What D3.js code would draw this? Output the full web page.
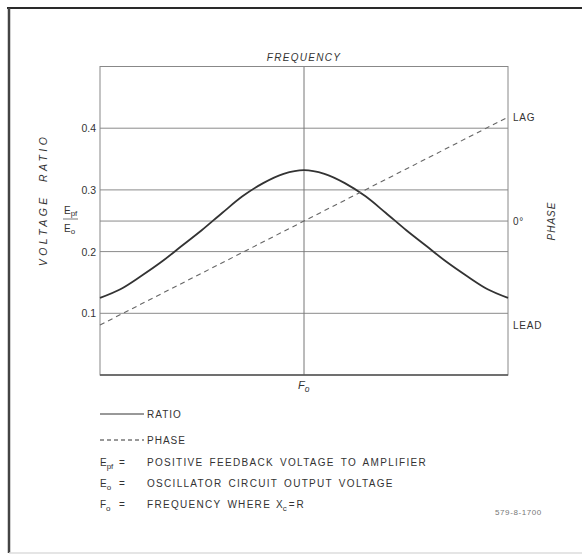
<!DOCTYPE html>
<html>
<head>
<meta charset="utf-8">
<script src="https://cdn.jsdelivr.net/npm/d3@7"></script>
<style>
  body { margin: 0; background: #fff; }
  svg text { font-family: 'Liberation Sans', Arial, sans-serif; fill: #333; }
</style>
</head>
<body>
<div id="chart"></div>
<script>
// frequency relative to Fo (log scale, -1 .. +1 across the plot)
const freq = [-1, -0.9, -0.8, -0.7, -0.6, -0.5, -0.4, -0.3, -0.2, -0.1, 0,
  0.1, 0.2, 0.3, 0.4, 0.5, 0.6, 0.7, 0.8, 0.9, 1];
// Epf / Eo
const ratio = [0.125, 0.139, 0.160, 0.183, 0.209, 0.235, 0.263, 0.290, 0.311, 0.326, 0.332,
  0.326, 0.311, 0.290, 0.263, 0.235, 0.209, 0.183, 0.160, 0.139, 0.125];
// phase is a straight line from lead to lag
const phaseFreq = [-1, 1];
const phaseDeg = [-90, 90];

const ratioTicks = [0.1, 0.2, 0.3, 0.4];
const phaseTicks = [
  { v: 90, label: 'LAG' },
  { v: 0, label: '0°' },
  { v: -90, label: 'LEAD' },
];

const w = 582;
const h = 558;
const margins = { top: 67, right: 74, bottom: 183, left: 100 };

const svg = d3.select('#chart').append('svg')
  .attr('width', w)
  .attr('height', h);

// outer frame (only top and left edges show in the scan)
svg.append('line').attr('x1', 7).attr('x2', w).attr('y1', 8).attr('y2', 8)
  .attr('stroke', '#2a2a2a').attr('stroke-width', 2);
svg.append('line').attr('x1', 9).attr('x2', 9).attr('y1', 8).attr('y2', 553)
  .attr('stroke', '#444').attr('stroke-width', 2.5);
svg.append('line').attr('x1', 9).attr('x2', w).attr('y1', 553).attr('y2', 553)
  .attr('stroke', '#ddd').attr('stroke-width', 1.5);

const x = d3.scaleLinear()
  .domain([-1, 1])
  .range([margins.left, w - margins.right]);
const y = d3.scaleLinear()
  .domain([0, 0.5])
  .range([h - margins.bottom, margins.top - 0.5]);
const yPhase = d3.scaleLinear()
  .domain([-90, 90])
  .range([y(0.081), y(0.418)]);

const plot = svg.append('g');

// grid
plot.selectAll('line.grid')
  .data(ratioTicks)
  .enter()
  .append('line')
  .attr('class', 'grid')
  .attr('x1', x(-1)).attr('x2', x(1))
  .attr('y1', d => y(d)).attr('y2', d => y(d))
  .attr('stroke', '#8a8a8a').attr('stroke-width', 1);
plot.append('line')
  .attr('x1', x(-1)).attr('x2', x(1))
  .attr('y1', yPhase(0)).attr('y2', yPhase(0))
  .attr('stroke', '#8a8a8a').attr('stroke-width', 1);
plot.append('line')
  .attr('x1', x(0)).attr('x2', x(0))
  .attr('y1', y(0.5)).attr('y2', y(0))
  .attr('stroke', '#777').attr('stroke-width', 1);

// plot frame
plot.append('rect')
  .attr('x', x(-1)).attr('y', y(0.5))
  .attr('width', x(1) - x(-1)).attr('height', y(0) - y(0.5))
  .attr('fill', 'none').attr('stroke', '#888').attr('stroke-width', 1);
plot.append('line')
  .attr('x1', x(-1)).attr('x2', x(1))
  .attr('y1', y(0)).attr('y2', y(0))
  .attr('stroke', '#555').attr('stroke-width', 1.5);

// curves
const ratioLine = d3.line()
  .x((d, i) => x(freq[i]))
  .y(d => y(d))
  .curve(d3.curveCatmullRom);
plot.append('path')
  .attr('d', ratioLine(ratio))
  .attr('fill', 'none').attr('stroke', '#333').attr('stroke-width', 1.8);

const phaseLine = d3.line()
  .x((d, i) => x(phaseFreq[i]))
  .y(d => yPhase(d));
plot.append('path')
  .attr('d', phaseLine(phaseDeg))
  .attr('fill', 'none').attr('stroke', '#666').attr('stroke-width', 1.1)
  .attr('stroke-dasharray', '5,4');

// left tick labels
svg.selectAll('text.ytick')
  .data(ratioTicks)
  .enter()
  .append('text')
  .attr('class', 'ytick')
  .attr('x', x(-1) - 4)
  .attr('y', d => y(d) + 4)
  .attr('text-anchor', 'end')
  .style('font-size', '10.5px')
  .text(d3.format('.1f'));

// right phase labels
svg.selectAll('text.ptick')
  .data(phaseTicks)
  .enter()
  .append('text')
  .attr('class', 'ptick')
  .attr('x', x(1) + 5)
  .attr('y', d => yPhase(d.v) + 4)
  .style('font-size', '10px')
  .style('letter-spacing', '0.8px')
  .text(d => d.label);

// axis titles
svg.append('text')
  .attr('x', x(0))
  .attr('y', 61)
  .attr('text-anchor', 'middle')
  .style('font-size', '10px')
  .style('font-style', 'italic')
  .style('letter-spacing', '1.3px')
  .text('FREQUENCY');

svg.append('text')
  .attr('transform', 'translate(47, 200) rotate(-90)')
  .attr('text-anchor', 'middle')
  .style('font-size', '10.5px')
  .style('font-style', 'italic')
  .style('letter-spacing', '3.4px')
  .style('word-spacing', '6px')
  .text('VOLTAGE RATIO');

svg.append('text')
  .attr('transform', `translate(555, ${yPhase(0)}) rotate(-90)`)
  .attr('text-anchor', 'middle')
  .style('font-size', '10px')
  .style('font-style', 'italic')
  .style('letter-spacing', '1px')
  .text('PHASE');

// Epf / Eo fraction
const frac = svg.append('g').attr('transform', 'translate(64, 214)');
const num = frac.append('text').attr('x', 0).attr('y', 0).style('font-size', '10px');
num.append('tspan').text('E');
num.append('tspan').attr('dy', 2).style('font-size', '8px').text('pf');
frac.append('line').attr('x1', -1).attr('x2', 14).attr('y1', 5).attr('y2', 5)
  .attr('stroke', '#555').attr('stroke-width', 0.8);
const den = frac.append('text').attr('x', 0).attr('y', 18).style('font-size', '10px');
den.append('tspan').text('E');
den.append('tspan').attr('dy', 2).style('font-size', '8px').text('o');

// Fo under centre line
const fo = svg.append('text')
  .attr('x', x(0) - 6)
  .attr('y', 389)
  .style('font-size', '11px')
  .style('font-style', 'italic');
fo.append('tspan').text('F');
fo.append('tspan').attr('dy', 3).style('font-size', '8.5px').text('o');

// legend
const legend = svg.append('g').attr('class', 'legend');
const legendRows = [
  { label: 'RATIO', dash: null, y: 414 },
  { label: 'PHASE', dash: '4,3', y: 440 },
];
legend.selectAll('line')
  .data(legendRows)
  .enter()
  .append('line')
  .attr('x1', 100).attr('x2', 144)
  .attr('y1', d => d.y).attr('y2', d => d.y)
  .attr('stroke', '#333')
  .attr('stroke-width', 1)
  .attr('stroke-dasharray', d => d.dash);
legend.selectAll('text.key')
  .data(legendRows)
  .enter()
  .append('text')
  .attr('class', 'key')
  .attr('x', 147)
  .attr('y', d => d.y + 4)
  .style('font-size', '10px')
  .style('letter-spacing', '1px')
  .text(d => d.label);

const defs = [
  { sym: 'E', sub: 'pf', text: 'POSITIVE FEEDBACK VOLTAGE TO AMPLIFIER', y: 466 },
  { sym: 'E', sub: 'o', text: 'OSCILLATOR CIRCUIT OUTPUT VOLTAGE', y: 487 },
  { sym: 'F', sub: 'o', text: 'FREQUENCY WHERE', y: 508 },
];
defs.forEach((d) => {
  const s = legend.append('text').attr('x', 100).attr('y', d.y).style('font-size', '10px');
  s.append('tspan').text(d.sym);
  s.append('tspan').attr('dy', 3).style('font-size', '8px').text(d.sub);
  legend.append('text').attr('x', 119).attr('y', d.y).style('font-size', '10px').text('=');
  legend.append('text')
    .attr('x', 147).attr('y', d.y)
    .style('font-size', '10px')
    .style('letter-spacing', '1.3px')
    .style('word-spacing', '2px')
    .text(d.text);
});
const xc = legend.append('text').attr('x', 276).attr('y', 508).style('font-size', '10px');
xc.append('tspan').text('X');
xc.append('tspan').attr('dy', 3).style('font-size', '8px').text('c');
xc.append('tspan').attr('dy', -3).attr('dx', 2).text('=');
xc.append('tspan').attr('dx', 2).text('R');

// drawing number
svg.append('text')
  .attr('x', 495)
  .attr('y', 515)
  .style('font-size', '8px')
  .style('fill', '#777')
  .style('letter-spacing', '0.6px')
  .text('579-8-1700');
</script>
</body>
</html>
